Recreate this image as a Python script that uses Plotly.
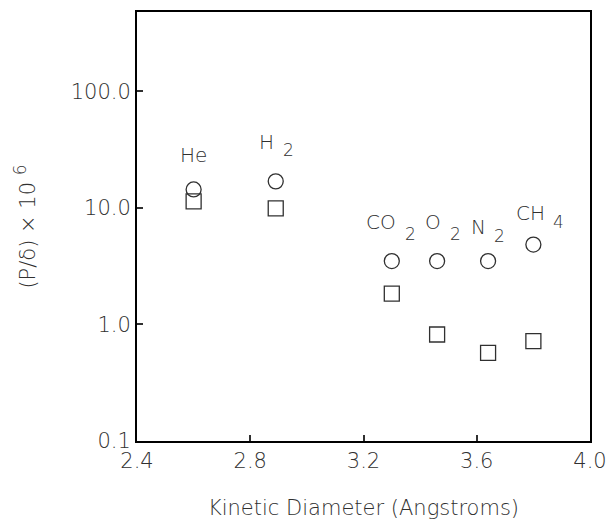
import plotly.graph_objects as go
import numpy as np

# ---- data ----
gases = ["He", "H", "CO", "O", "N", "CH"]
gas_subscripts = ["", "2", "2", "2", "2", "4"]
kinetic_diameter = [2.60, 2.89, 3.30, 3.46, 3.64, 3.80]
series_circle = [14.4, 16.9, 3.5, 3.5, 3.5, 4.85]
series_square = [11.4, 9.9, 1.84, 0.82, 0.57, 0.72]
y_tick_vals = [0.1, 1.0, 10.0, 100.0]
y_tick_text = ["0.1", "1.0", "10.0", "100.0"]
x_tick_vals = [2.4, 2.8, 3.2, 3.6, 4.0]
x_tick_text = ["2.4", "2.8", "3.2", "3.6", "4.0"]

# ---- style ----
FONT = "DejaVu Sans"
W = 200
INK = "#303030"
# pixel offsets of label pieces relative to the circle marker
base_dx = [0, 0, 6, 6, 0, 14]
base_dy = [34, 39, 39, 39, 34, 32]
sub_dx = [0, 5, 11, 11, 4, 18]
sub_dy = [0, 31, 27, 27, 25, 23]

fig = go.Figure()
fig.add_trace(go.Scatter(
    x=kinetic_diameter, y=series_circle, mode="markers",
    marker=dict(symbol="circle-open", size=15, color=INK, line=dict(width=1.3, color=INK)),
    showlegend=False, hoverinfo="skip"))
fig.add_trace(go.Scatter(
    x=kinetic_diameter, y=series_square, mode="markers",
    marker=dict(symbol="square-open", size=15, color=INK, line=dict(width=1.3, color=INK)),
    showlegend=False, hoverinfo="skip"))

for i, (g, s, xv, yv) in enumerate(zip(gases, gas_subscripts, kinetic_diameter, series_circle)):
    fig.add_annotation(x=xv, y=np.log10(yv), text=g, showarrow=False,
                       xshift=base_dx[i], yshift=base_dy[i],
                       xanchor="center" if not s else "right", yanchor="middle",
                       font=dict(family=FONT, size=20, color=INK, weight=W))
    if s:
        fig.add_annotation(x=xv, y=np.log10(yv), text=s, showarrow=False,
                           xshift=sub_dx[i], yshift=sub_dy[i],
                           xanchor="left", yanchor="middle",
                           font=dict(family=FONT, size=17, color=INK, weight=W))

fig.update_layout(
    width=607, height=520,
    margin=dict(l=137, r=17, t=12, b=79),
    paper_bgcolor="white", plot_bgcolor="white",
    font=dict(family=FONT, color=INK, size=20, weight=W),
    xaxis=dict(range=[2.4, 4.0], tickvals=x_tick_vals, ticktext=x_tick_text,
               ticks="inside", ticklen=6, tickwidth=1.5, tickcolor=INK,
               showline=True, linecolor="black", linewidth=2, mirror=True,
               showgrid=False, zeroline=False, automargin=False,
               tickfont=dict(family=FONT, size=21, color=INK, weight=W),
               title=dict(text="Kinetic Diameter (Angstroms)", standoff=30,
                          font=dict(family=FONT, size=21, color=INK, weight=W))),
    yaxis=dict(type="log", range=[-1, np.log10(480)], tickvals=y_tick_vals, ticktext=y_tick_text,
               ticks="inside", ticklen=6, tickwidth=1.5, tickcolor=INK,
               showline=True, linecolor="black", linewidth=2, mirror=True,
               showgrid=False, zeroline=False, automargin=False,
               tickfont=dict(family=FONT, size=21, color=INK, weight=W),
               title=dict(text="(P/δ) × 10&nbsp;<sup><span style='font-size:17px'>6</span></sup>", standoff=29,
                          font=dict(family=FONT, size=21, color=INK, weight=W))),
)

fig.write_html("out.html")
